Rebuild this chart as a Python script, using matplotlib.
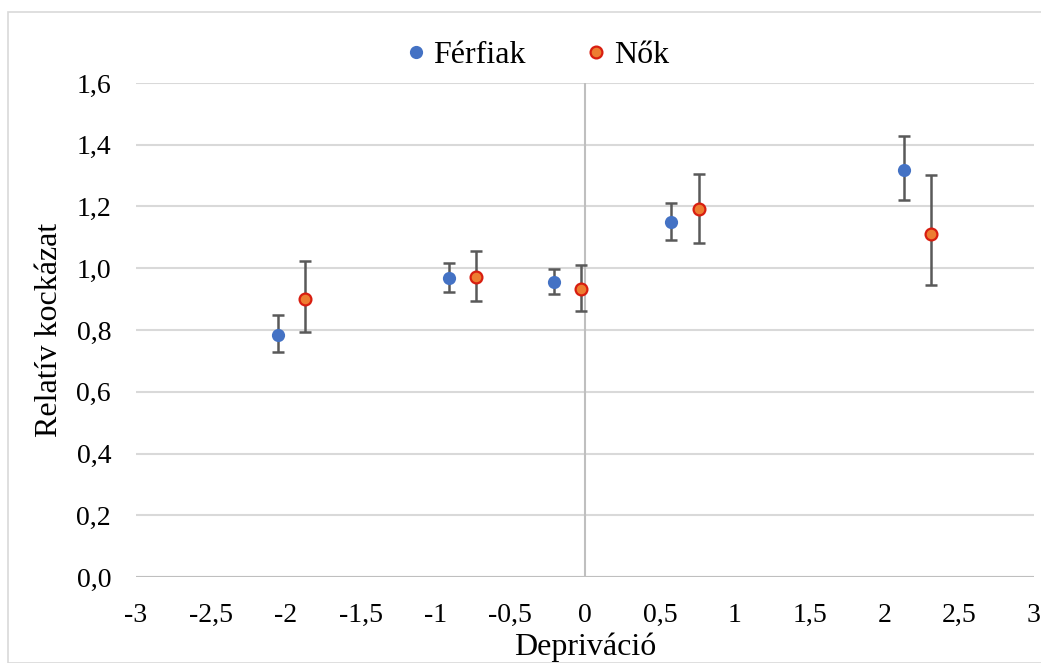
import matplotlib
matplotlib.use("Agg")
import matplotlib.pyplot as plt
from matplotlib.ticker import MultipleLocator, FuncFormatter
from matplotlib.patches import Rectangle

# Data
ferfi_x = [-2.05, -0.91, -0.21, 0.575, 2.13]
ferfi_y = [0.785, 0.969, 0.956, 1.149, 1.318]
ferfi_lo = [0.730, 0.924, 0.917, 1.092, 1.220]
ferfi_hi = [0.849, 1.016, 0.998, 1.210, 1.428]

nok_x = [-1.87, -0.73, -0.027, 0.763, 2.31]
nok_y = [0.899, 0.973, 0.932, 1.191, 1.111]
nok_lo = [0.793, 0.895, 0.863, 1.083, 0.946]
nok_hi = [1.023, 1.057, 1.012, 1.305, 1.302]

series_labels = ["Férfiak", "Nők"]
x_label = "Depriváció"
y_label = "Relatív kockázat"

plt.rcParams['font.family'] = ['Liberation Serif', 'DejaVu Serif']

fig = plt.figure(figsize=(10.41, 6.63), dpi=100)
fig.patches.append(Rectangle((8/1041, 0), 1.1, 1 - 12/663, transform=fig.transFigure,
                             fill=False, edgecolor='#d9d9d9', linewidth=1.2))
ax = fig.add_axes([136/1041, 1 - 577/663, (1034-136)/1041, (577-83)/663])

err_kw = dict(fmt='none', ecolor='#595959', elinewidth=1.8, capsize=4.2, capthick=1.8, zorder=3)

ax.errorbar(ferfi_x, ferfi_y,
            yerr=[[y - l for y, l in zip(ferfi_y, ferfi_lo)], [h - y for y, h in zip(ferfi_y, ferfi_hi)]],
            **err_kw)
ax.errorbar(nok_x, nok_y,
            yerr=[[y - l for y, l in zip(nok_y, nok_lo)], [h - y for y, h in zip(nok_y, nok_hi)]],
            **err_kw)
ax.plot(ferfi_x, ferfi_y, 'o', color='#4472C4', markersize=9.5, markeredgewidth=0,
        label=series_labels[0], zorder=4)
ax.plot(nok_x, nok_y, 'o', markerfacecolor='#ED7D31', markeredgecolor='#D81E10',
        markersize=8.5, markeredgewidth=1.6, label=series_labels[1], zorder=4)

ax.set_xlim(-3, 3)
ax.set_ylim(0, 1.6)
ax.xaxis.set_major_locator(MultipleLocator(0.5))
ax.yaxis.set_major_locator(MultipleLocator(0.2))

def fmt_x(v, p):
    s = ('%g' % round(v, 2)).replace('.', ',')
    return '0' if s in ('-0',) else s

ax.xaxis.set_major_formatter(FuncFormatter(fmt_x))
ax.yaxis.set_major_formatter(FuncFormatter(lambda v, p: ('%.1f' % v).replace('.', ',')))

ax.grid(axis='y', color='#d9d9d9', linewidth=1.5)
ax.set_axisbelow(True)
ax.axvline(0, color='#bfbfbf', linewidth=1.5, zorder=1)
ax.axhline(0, color='#bfbfbf', linewidth=1.5, zorder=1)
for s in ax.spines.values():
    s.set_visible(False)
ax.tick_params(length=0, labelsize=20, colors='#000000')
ax.tick_params(axis='x', pad=19)
ax.tick_params(axis='y', pad=18)

ax.set_xlabel(x_label, fontsize=23, labelpad=3)
ax.set_ylabel(y_label, fontsize=23, labelpad=9)

leg = ax.legend(loc='lower center', bbox_to_anchor=(0.442, 1.0), ncol=2, frameon=False,
                fontsize=23, handletextpad=-0.05, columnspacing=1.6, borderaxespad=0.0,
                handlelength=1.2)

fig.savefig('out.png', dpi=100, facecolor='white')
